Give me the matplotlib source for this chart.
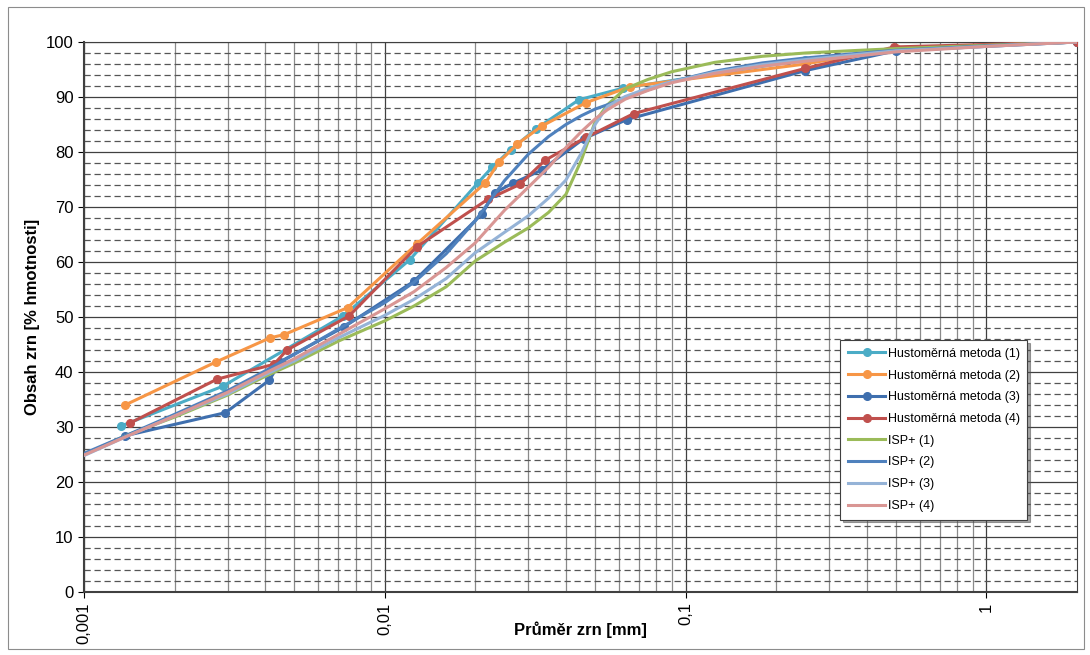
import matplotlib
matplotlib.use("Agg")
import matplotlib.pyplot as plt
from matplotlib.ticker import FixedLocator, FuncFormatter, MultipleLocator
from matplotlib.patches import Rectangle

plt.rcParams['font.family'] = ['Liberation Sans', 'DejaVu Sans']

# Hustoměrná metoda - measured points (d [mm], passing [%])
husto1_d = [0.00133, 0.00289, 0.00727, 0.0121, 0.0204, 0.0228, 0.0262, 0.0318, 0.0442, 0.0619, 0.25, 0.5, 2.0]
husto1_p = [30.2, 37.4, 50.2, 60.4, 74.4, 77.3, 80.4, 84.2, 89.5, 91.6, 96.8, 98.6, 100.0]

husto2_d = [0.00137, 0.00274, 0.00415, 0.00463, 0.00752, 0.0128, 0.0216, 0.024, 0.0275, 0.0332, 0.0468, 0.0655, 0.25, 0.5, 2.0]
husto2_p = [34.0, 41.8, 46.2, 46.8, 51.7, 63.3, 74.4, 78.2, 81.4, 84.7, 89.0, 91.9, 96.0, 98.9, 100.0]

husto3_d = [0.00137, 0.00295, 0.00413, 0.0045, 0.00732, 0.0125, 0.021, 0.0232, 0.0266, 0.0332, 0.0458, 0.0638, 0.25, 0.5, 2.0]
husto3_p = [28.4, 32.6, 38.5, 41.9, 48.2, 56.5, 68.7, 72.6, 74.3, 76.7, 82.4, 85.9, 94.8, 98.4, 100.0]

husto4_d = [0.00142, 0.00277, 0.00428, 0.00473, 0.00761, 0.0128, 0.022, 0.0281, 0.0341, 0.0468, 0.0673, 0.25, 0.494, 2.0]
husto4_p = [30.7, 38.7, 41.4, 44.0, 50.2, 62.8, 71.4, 74.1, 78.5, 82.7, 87.0, 95.2, 99.1, 100.0]

# ISP+ curves
isp_d = [0.001, 0.0014, 0.002, 0.003, 0.004, 0.005, 0.007, 0.01, 0.0125, 0.016, 0.02, 0.025, 0.03,
         0.035, 0.04, 0.045, 0.05, 0.055, 0.063, 0.075, 0.09, 0.125, 0.18, 0.25, 0.35, 0.5, 1.0, 2.0]
isp1_p = [25.0, 28.6, 31.8, 35.8, 39.2, 41.6, 45.6, 49.3, 52.0, 55.5, 60.2, 63.6, 66.2,
          69.0, 72.3, 78.5, 85.5, 88.6, 91.5, 93.2, 94.6, 96.3, 97.4, 98.0, 98.4, 98.8, 99.4, 100.0]
isp2_p = [25.2, 28.6, 32.3, 36.6, 40.2, 43.2, 47.8, 52.6, 56.3, 61.5, 67.5, 74.8, 79.6,
          82.8, 85.0, 86.6, 87.8, 88.6, 89.8, 91.3, 92.8, 94.7, 96.2, 97.1, 97.8, 98.5, 99.3, 100.0]
isp3_p = [24.8, 28.4, 32.0, 36.0, 39.5, 42.0, 46.2, 50.3, 53.2, 57.0, 61.7, 65.4, 68.4,
          71.6, 74.9, 79.8, 85.0, 88.3, 90.1, 91.6, 92.8, 94.5, 95.9, 96.8, 97.6, 98.4, 99.2, 100.0]
isp4_p = [24.9, 28.4, 32.0, 36.3, 39.8, 42.4, 46.8, 51.5, 54.6, 59.0, 63.5, 69.4, 73.6,
          77.2, 80.8, 83.7, 86.0, 87.7, 89.6, 91.2, 92.6, 94.3, 95.6, 96.5, 97.3, 98.2, 99.2, 100.0]

husto_series = [
    (husto1_d, husto1_p, '#4BACC6', 'Hustoměrná metoda (1)'),
    (husto2_d, husto2_p, '#F79646', 'Hustoměrná metoda (2)'),
    (husto3_d, husto3_p, '#3F6FAE', 'Hustoměrná metoda (3)'),
    (husto4_d, husto4_p, '#C0504D', 'Hustoměrná metoda (4)'),
]
isp_series = [
    (isp1_p, '#9BBB59', 'ISP+ (1)'),
    (isp2_p, '#4F81BD', 'ISP+ (2)'),
    (isp3_p, '#95B3D7', 'ISP+ (3)'),
    (isp4_p, '#D99694', 'ISP+ (4)'),
]

fig = plt.figure(figsize=(10.9, 6.55), dpi=100)
ax = fig.add_axes([84 / 1090, 1 - 592 / 655, 993 / 1090, 550 / 655])

# outer chart border
fig.patches.append(Rectangle((8 / 1090, 6 / 655), 1076 / 1090, 642 / 655, transform=fig.transFigure,
                             fill=False, edgecolor='#8c8c8c', linewidth=0.8))

for d, p, c, lab in husto_series:
    ax.plot(d, p, color=c, lw=2.2, marker='o', ms=5.5, label=lab, zorder=3)
for p, c, lab in isp_series:
    ax.plot(isp_d, p, color=c, lw=2.2, label=lab, zorder=3)

ax.set_xscale('log')
ax.set_xlim(0.001, 2)
ax.set_ylim(0, 100)

# grid
for k in [0.001, 0.01, 0.1, 1.0]:
    for m in range(1, 10):
        v = k * m
        if v >= 2:
            continue
        col = '#404040' if m == 1 else '#8a8a8a'
        ax.axvline(v, color=col, lw=0.9, zorder=1)
for yv in range(0, 101, 2):
    if yv % 10 == 0:
        ax.axhline(yv, color='#404040', lw=0.9, zorder=1)
    else:
        ax.axhline(yv, color='#555555', lw=0.9, ls=(0, (5, 3)), zorder=1)

ax.xaxis.set_major_locator(FixedLocator([0.001, 0.01, 0.1, 1]))
ax.xaxis.set_minor_locator(FixedLocator([]))
ax.xaxis.set_major_formatter(FuncFormatter(lambda v, pos: ('%g' % v).replace('.', ',')))
ax.yaxis.set_major_locator(MultipleLocator(10))
ax.tick_params(axis='x', labelrotation=90, labelsize=12, length=4, direction='out')
ax.tick_params(axis='y', labelsize=12, length=4, direction='out')

for s in ax.spines.values():
    s.set_color('#404040')
ax.spines['left'].set_linewidth(1.5)
ax.spines['bottom'].set_linewidth(1.5)

# x label sits beside the rotated tick labels, as in the original
fig.text(580 / 1090, 1 - 630 / 655, 'Průměr zrn [mm]', fontsize=12, fontweight='bold',
         ha='center', va='center')
ax.set_ylabel('Obsah zrn [% hmotnosti]', fontsize=12, fontweight='bold', labelpad=4)

leg = ax.legend(loc='upper left', bbox_to_anchor=((834 - 84) / 993, (592 - 334) / 550),
                fontsize=9, frameon=True, fancybox=False, shadow=True,
                handlelength=3.0, labelspacing=0.78, borderpad=0.6, handletextpad=0.2)
leg.get_frame().set_edgecolor('#404040')
leg.get_frame().set_linewidth(0.8)

fig.savefig('out.png', dpi=100)
